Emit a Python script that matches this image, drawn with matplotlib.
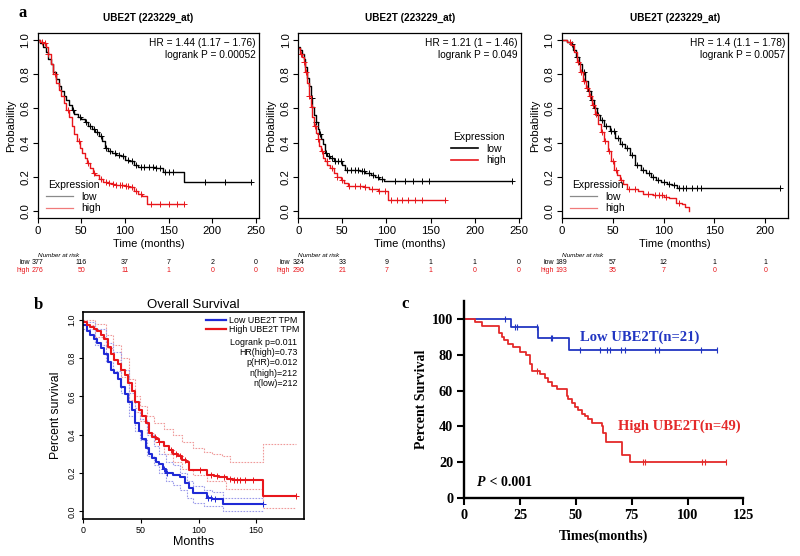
import numpy as np
import matplotlib
matplotlib.use("Agg")
import matplotlib.pyplot as plt
from matplotlib.lines import Line2D

# ---------------- panel a: three KM-plotter cohorts ----------------
a_title = "UBE2T (223229_at)"
a_hr = ["HR = 1.44 (1.17 \u2212 1.76)", "HR = 1.21 (1 \u2212 1.46)", "HR = 1.4 (1.1 \u2212 1.78)"]
a_p = ["logrank P = 0.00052", "logrank P = 0.049", "logrank P = 0.0057"]

a1_low_t = [0, 3, 6, 9, 12, 15, 18, 21, 24, 27, 30, 33, 36, 39, 42, 46, 50, 54, 58, 62, 66, 70, 74,
            77, 80, 85, 90, 95, 100, 105, 110, 115, 125, 135, 143, 168]
a1_low_s = [1.0, 0.98, 0.96, 0.93, 0.89, 0.86, 0.81, 0.77, 0.73, 0.70, 0.67, 0.65, 0.62, 0.59, 0.57,
            0.55, 0.54, 0.52, 0.50, 0.48, 0.46, 0.44, 0.41, 0.37, 0.35, 0.34, 0.33, 0.32, 0.30, 0.29,
            0.27, 0.26, 0.255, 0.25, 0.23, 0.17]
a1_low_end = 244
a1_low_cens = [40, 48, 55, 60, 64, 68, 72, 78, 83, 88, 93, 98, 103, 108, 113, 118, 122, 128, 132,
               136, 140, 146, 150, 155, 192, 214, 244]
a1_high_t = [0, 3, 6, 9, 12, 15, 18, 21, 24, 27, 30, 33, 36, 39, 42, 45, 48, 51, 54, 57, 60, 63, 66,
             70, 75, 80, 85, 90, 95, 100, 105, 110, 115, 120, 125]
a1_high_s = [1.0, 0.99, 0.98, 0.96, 0.92, 0.86, 0.80, 0.75, 0.71, 0.67, 0.63, 0.59, 0.55, 0.50, 0.45,
             0.41, 0.37, 0.34, 0.31, 0.28, 0.25, 0.22, 0.21, 0.19, 0.17, 0.165, 0.16, 0.155, 0.15,
             0.145, 0.14, 0.12, 0.10, 0.09, 0.04]
a1_high_end = 168
a1_high_cens = [5, 8, 12, 20, 35, 47, 58, 65, 72, 78, 82, 86, 90, 94, 97, 101, 104, 108, 113, 118,
                130, 140, 150, 160, 168]

a2_low_t = [0, 2, 4, 6, 8, 10, 12, 14, 16, 18, 20, 22, 24, 26, 28, 30, 33, 36, 40, 50, 53, 70, 76,
            82, 87, 92, 97]
a2_low_s = [0.96, 0.94, 0.92, 0.89, 0.84, 0.78, 0.73, 0.66, 0.61, 0.56, 0.52, 0.48, 0.45, 0.42,
            0.39, 0.34, 0.32, 0.31, 0.29, 0.27, 0.24, 0.235, 0.22, 0.21, 0.20, 0.19, 0.175]
a2_low_end = 243
a2_low_cens = [15, 20, 25, 31, 35, 38, 42, 45, 48, 55, 60, 64, 68, 72, 74, 80, 85, 90, 95, 110, 121,
               130, 140, 148, 243]
a2_high_t = [0, 2, 4, 6, 8, 10, 12, 14, 16, 18, 20, 22, 24, 26, 28, 30, 33, 36, 40, 44, 48, 52, 56,
             75, 80, 90, 96, 102]
a2_high_s = [0.95, 0.92, 0.90, 0.87, 0.81, 0.75, 0.67, 0.61, 0.55, 0.50, 0.455, 0.42, 0.38, 0.35,
             0.31, 0.29, 0.27, 0.25, 0.22, 0.20, 0.18, 0.165, 0.145, 0.14, 0.13, 0.12, 0.115, 0.068]
a2_high_end = 167
a2_high_cens = [3, 6, 9, 12, 15, 19, 22, 27, 32, 38, 44, 50, 58, 64, 70, 76, 84, 92, 98, 105, 112,
                118, 125, 132, 140, 167]

a3_low_t = [0, 5, 8, 11, 14, 17, 20, 23, 26, 29, 32, 35, 38, 42, 47, 52, 57, 62, 67, 72, 78, 83, 88,
            93, 98, 103, 108, 113]
a3_low_s = [1.0, 0.99, 0.975, 0.94, 0.90, 0.86, 0.81, 0.76, 0.70, 0.65, 0.60, 0.56, 0.53, 0.50, 0.47,
            0.43, 0.39, 0.37, 0.33, 0.27, 0.24, 0.22, 0.20, 0.18, 0.17, 0.16, 0.15, 0.135]
a3_low_end = 214
a3_low_cens = [10, 15, 22, 27, 30, 33, 36, 40, 44, 48, 51, 55, 59, 64, 69, 74, 80, 86, 90, 95, 100,
               105, 110, 115, 119, 122, 128, 133, 137, 214]
a3_high_t = [0, 5, 9, 12, 15, 18, 21, 24, 27, 30, 33, 36, 39, 42, 45, 48, 51, 54, 57, 60, 64, 75,
             80, 90, 100, 105, 112, 118, 121, 125]
a3_high_s = [1.0, 0.99, 0.97, 0.93, 0.87, 0.81, 0.76, 0.72, 0.67, 0.62, 0.57, 0.51, 0.46, 0.41,
             0.35, 0.29, 0.24, 0.21, 0.18, 0.16, 0.13, 0.12, 0.10, 0.095, 0.085, 0.075, 0.05, 0.04,
             0.025, 0.0]
a3_high_end = 125
a3_high_cens = [8, 16, 19, 22, 25, 28, 31, 34, 40, 43, 46, 50, 53, 58, 66, 72, 85, 92, 96, 99, 102,
                115]

risk_times = [[0, 50, 100, 150, 200, 250], [0, 50, 100, 150, 200, 250], [0, 50, 100, 150, 200]]
risk_low = [[377, 116, 37, 7, 2, 0], [324, 33, 9, 1, 1, 0], [189, 57, 12, 1, 1]]
risk_high = [[276, 50, 11, 1, 0, 0], [290, 21, 7, 1, 0, 0], [193, 35, 7, 0, 0]]

# ---------------- panel b: GEPIA overall survival ----------------
b_high_t = [0, 3, 6, 9, 12, 15, 18, 21, 24, 27, 30, 33, 36, 39, 42, 45, 48, 51, 54, 57, 60, 63, 66,
            70, 74, 78, 82, 86, 89, 92, 107, 113, 118, 125, 130, 156]
b_high_s = [0.99, 0.97, 0.96, 0.95, 0.94, 0.92, 0.90, 0.86, 0.82, 0.79, 0.77, 0.74, 0.71, 0.67,
            0.63, 0.57, 0.53, 0.50, 0.46, 0.41, 0.39, 0.38, 0.36, 0.34, 0.32, 0.30, 0.29, 0.27,
            0.26, 0.215, 0.19, 0.185, 0.18, 0.17, 0.165, 0.08]
b_high_end = 184
b_high_cens = [62, 66, 76, 80, 84, 88, 101, 111, 116, 122, 127, 131, 133, 136, 140, 147, 184]
b_low_t = [0, 3, 6, 9, 12, 15, 18, 21, 24, 27, 30, 33, 36, 39, 42, 45, 48, 51, 54, 57, 60, 63, 66,
           69, 72, 78, 84, 88, 92, 95, 107, 112, 121]
b_low_s = [0.97, 0.94, 0.92, 0.90, 0.88, 0.85, 0.82, 0.78, 0.74, 0.72, 0.69, 0.65, 0.61, 0.57, 0.53,
           0.46, 0.42, 0.38, 0.33, 0.30, 0.28, 0.26, 0.245, 0.22, 0.20, 0.19, 0.18, 0.15, 0.12,
           0.097, 0.07, 0.065, 0.036]
b_low_end = 156
b_low_cens = [70, 73, 108, 111, 114, 156]

b_high_up_t = [0, 10, 20, 26, 33, 40, 45, 49, 55, 61, 70, 78, 86, 95, 105, 112, 120, 127, 156]
b_high_up_s = [1.0, 0.98, 0.92, 0.87, 0.80, 0.69, 0.60, 0.55, 0.50, 0.46, 0.43, 0.40, 0.36, 0.33,
               0.31, 0.30, 0.29, 0.26, 0.35]
b_high_lo_t = [0, 10, 20, 26, 33, 40, 45, 49, 55, 61, 70, 78, 86, 95, 107, 124, 156]
b_high_lo_s = [0.97, 0.91, 0.85, 0.79, 0.70, 0.58, 0.52, 0.47, 0.41, 0.36, 0.30, 0.26, 0.22, 0.19,
               0.16, 0.115, 0.02]
b_low_up_t = [0, 10, 20, 26, 33, 40, 45, 49, 55, 61, 66, 72, 78, 84, 90, 95, 105, 112, 121]
b_low_up_s = [0.99, 0.95, 0.88, 0.83, 0.74, 0.62, 0.54, 0.48, 0.40, 0.34, 0.30, 0.26, 0.24, 0.20,
              0.16, 0.13, 0.11, 0.10, 0.07]
b_low_lo_t = [0, 10, 20, 26, 33, 40, 45, 49, 55, 61, 66, 72, 78, 84, 90, 95, 105, 121]
b_low_lo_s = [0.95, 0.87, 0.78, 0.73, 0.62, 0.50, 0.42, 0.37, 0.29, 0.24, 0.20, 0.16, 0.14, 0.11,
              0.07, 0.045, 0.03, 0.0]
b_stats = ["Logrank p=0.011", "HR(high)=0.73", "p(HR)=0.012", "n(high)=212", "n(low)=212"]

# ---------------- panel c: own cohort ----------------
c_low_t = [0, 21, 33, 47]
c_low_s = [100, 95.2, 89.3, 82.5]
c_low_end = 113
c_low_cens = [18, 22.5, 23.5, 32.5, 38.7, 39.4, 52, 61, 64, 65.3, 70, 72, 85.4, 87.2, 106, 113]
c_high_t = [0, 5, 8, 15.5, 16.7, 17.8, 19.7, 22, 25, 27.6, 29.4, 30.2, 33.9, 36.1, 37.6, 39.1, 41.4,
            46.1, 46.6, 48.1, 49.6, 51.1, 52.6, 54, 55.5, 57, 61.5, 62.3, 63.3, 70.5, 74.2]
c_high_s = [100, 98, 96, 92, 90, 88, 86, 84, 81.5, 79.5, 75, 71, 69, 67, 65, 62.5, 61, 57, 55, 53,
            51, 49, 47, 46, 44, 42, 40, 36.5, 31.5, 24, 20]
c_high_end = 117
c_high_cens = [32.7, 80.2, 81, 106.6, 107.8, 117]

RED = "#e8161b"
SANS = ["Liberation Sans", "DejaVu Sans"]
SERIF = ["Liberation Serif", "DejaVu Serif"]
plt.rcParams["font.family"] = SANS


def step_at(t, times, surv):
    idx = np.searchsorted(np.asarray(times, float), np.asarray(t, float), side="right") - 1
    return np.asarray(surv, float)[idx]


def km(ax, times, surv, t_end, cens=None, mk="+", ms=4, mew=0.7, **kw):
    ax.step(list(times) + [t_end], list(surv) + [surv[-1]], where="post", **kw)
    if cens:
        ax.plot(cens, step_at(cens, times, surv), ls="none", marker=mk, ms=ms, mew=mew,
                color=kw.get("color"))


fig = plt.figure(figsize=(8, 5.56), dpi=100)

a_pos = [(0.0471, 0.6079, 0.2770, 0.3327), (0.3729, 0.6079, 0.2784, 0.3327),
         (0.7021, 0.6079, 0.2833, 0.3327)]
a_data = [
    (a1_low_t, a1_low_s, a1_low_end, a1_low_cens, a1_high_t, a1_high_s, a1_high_end, a1_high_cens),
    (a2_low_t, a2_low_s, a2_low_end, a2_low_cens, a2_high_t, a2_high_s, a2_high_end, a2_high_cens),
    (a3_low_t, a3_low_s, a3_low_end, a3_low_cens, a3_high_t, a3_high_s, a3_high_end, a3_high_cens),
]
leg_anchor = [("lower left", (0.0, -0.02)), ("lower right", (0.97, 0.24)), ("lower left", (0.0, -0.02))]

for i, (lt, ls, le, lc, ht, hs, he, hc) in enumerate(a_data):
    ax = fig.add_axes(a_pos[i])
    km(ax, lt, ls, le, lc, color="black", lw=1.0)
    km(ax, ht, hs, he, hc, color=RED, lw=1.0)
    xmax = max(le, he) * 1.04
    ax.set_xlim(0, xmax)
    ax.set_ylim(-0.04, 1.04)
    ax.set_xticks(np.arange(0, xmax, 50))
    ax.set_yticks([0, 0.2, 0.4, 0.6, 0.8, 1.0])
    ax.set_yticklabels(["0.0", "0.2", "0.4", "0.6", "0.8", "1.0"], rotation=90, va="center")
    ax.tick_params(direction="out", length=3.5, width=0.8, labelsize=8.2, pad=2)
    for s in ax.spines.values():
        s.set_linewidth(0.9)
    ax.set_xlabel("Time (months)", fontsize=8, labelpad=2.5)
    ax.set_ylabel("Probability", fontsize=8, labelpad=3)
    ax.set_title(a_title, fontsize=7.2, fontweight="bold", pad=9)
    ax.text(0.985, 0.975, a_hr[i] + "\n" + a_p[i], transform=ax.transAxes, ha="right", va="top",
            fontsize=7.3, linespacing=1.25)
    if i == 1:
        hcol = ["black", RED]
        hlw = 1.2
    else:
        hcol = ["#8a8a8a", "#f07a7a"]
        hlw = 0.9
    handles = [Line2D([], [], color=hcol[0], lw=hlw), Line2D([], [], color=hcol[1], lw=hlw)]
    ax.legend(handles, ["low", "high"], title="Expression", loc=leg_anchor[i][0],
              bbox_to_anchor=leg_anchor[i][1], frameon=False, fontsize=7.5, title_fontsize=7.5,
              handlelength=2.6, handletextpad=0.8, labelspacing=0.15, borderpad=0.3)
    tr = ax.get_xaxis_transform()
    ax.text(0, -0.205, "Number at risk", transform=tr, fontsize=4.6, ha="left", va="center",
            style="italic")
    ax.text(-0.036, -0.243, "low", transform=ax.transAxes, fontsize=5, ha="right", va="center")
    ax.text(-0.036, -0.283, "high", transform=ax.transAxes, fontsize=5, ha="right", va="center",
            color=RED)
    for t, nl, nh in zip(risk_times[i], risk_low[i], risk_high[i]):
        ax.text(t, -0.243, str(nl), transform=tr, fontsize=5, ha="center", va="center")
        ax.text(t, -0.283, str(nh), transform=tr, fontsize=5, ha="center", va="center", color=RED)

# panel b
BLUE_B = "#1f2ad6"
axb = fig.add_axes([0.1041, 0.0665, 0.2754, 0.3723])
km(axb, b_high_up_t, b_high_up_s, b_high_end, color="#ef9a9a", lw=0.8, ls=(0, (1.5, 1.2)))
km(axb, b_high_lo_t, b_high_lo_s, b_high_end, color="#ef9a9a", lw=0.8, ls=(0, (1.5, 1.2)))
km(axb, b_low_up_t, b_low_up_s, b_low_end, color="#9a9aea", lw=0.8, ls=(0, (1.5, 1.2)))
km(axb, b_low_lo_t, b_low_lo_s, b_low_end, color="#9a9aea", lw=0.8, ls=(0, (1.5, 1.2)))
km(axb, b_low_t, b_low_s, b_low_end, b_low_cens, color=BLUE_B, lw=1.5, ms=5)
km(axb, b_high_t, b_high_s, b_high_end, b_high_cens, color=RED, lw=1.5, ms=5)
axb.set_xlim(0, 191)
axb.set_ylim(-0.04, 1.04)
axb.set_xticks([0, 50, 100, 150])
axb.set_yticks([0, 0.2, 0.4, 0.6, 0.8, 1.0])
axb.set_yticklabels(["0.0", "0.2", "0.4", "0.6", "0.8", "1.0"], rotation=90, va="center")
axb.tick_params(direction="out", length=3, width=0.8, labelsize=6.4, pad=2)
for s in axb.spines.values():
    s.set_linewidth(1.2)
axb.set_title("Overall Survival", fontsize=9.5, pad=3)
axb.set_xlabel("Months", fontsize=9, labelpad=1)
axb.set_ylabel("Percent survival", fontsize=8.8, labelpad=4)
hb = [Line2D([], [], color=BLUE_B, lw=1.6), Line2D([], [], color=RED, lw=1.6)]
axb.legend(hb, ["Low UBE2T TPM", "High UBE2T TPM"], loc="upper right", bbox_to_anchor=(0.985, 0.985),
           frameon=False, fontsize=6.4, handlelength=2.3, handletextpad=0.3, labelspacing=0.05,
           borderpad=0.1, borderaxespad=0)
for k, s in enumerate(b_stats):
    axb.text(0.972, 0.855 - 0.0505 * k, s, transform=axb.transAxes, ha="right", va="center",
             fontsize=6.4)

# panel c
BLUE_C = "#2236c2"
RED_C = "#e42a2a"
axc = fig.add_axes([0.5804, 0.1038, 0.3488, 0.3554])
km(axc, c_low_t, c_low_s, c_low_end, c_low_cens, mk="|", ms=4, mew=0.8, color=BLUE_C, lw=1.3)
km(axc, c_high_t, c_high_s, c_high_end, c_high_cens, mk="|", ms=4, mew=0.8, color=RED_C, lw=1.3)
axc.set_xlim(0, 125)
axc.set_ylim(0, 110)
axc.set_xticks([0, 25, 50, 75, 100, 125])
axc.set_yticks([0, 20, 40, 60, 80, 100])
axc.spines["top"].set_visible(False)
axc.spines["right"].set_visible(False)
axc.spines["left"].set_linewidth(1.7)
axc.spines["bottom"].set_linewidth(1.7)
axc.tick_params(direction="out", length=5, width=1.5, pad=3)
for lab in axc.get_xticklabels() + axc.get_yticklabels():
    lab.set_fontfamily(SERIF)
    lab.set_fontweight("bold")
    lab.set_fontsize(10.3)
axc.set_ylabel("Percent Survival", fontsize=10, fontweight="bold", family=SERIF, labelpad=3)
axc.set_xlabel("Times(months)", fontsize=10, fontweight="bold", family=SERIF, labelpad=5)
axc.text(51.8, 89.4, "Low UBE2T(n=21)", color=BLUE_C, fontsize=10.5, fontweight="bold",
         family=SERIF, ha="left", va="center")
axc.text(69, 40, "High UBE2T(n=49)", color=RED_C, fontsize=10.5, fontweight="bold",
         family=SERIF, ha="left", va="center")
ptxt = axc.text(5.7, 9, "P", fontsize=10, fontweight="bold", style="italic", family=SERIF,
                ha="left", va="center")
axc.annotate(" < 0.001", xy=(1, 0.5), xycoords=ptxt, va="center", ha="left", fontsize=10,
             fontweight="bold", family=SERIF)

# panel letters
for lbl, x, y in [("a", 0.028, 0.977), ("b", 0.048, 0.452), ("c", 0.506, 0.453)]:
    fig.text(x, y, lbl, fontsize=12, fontweight="bold", family=SERIF, ha="center", va="center")

fig.savefig("out.png", dpi=100)
